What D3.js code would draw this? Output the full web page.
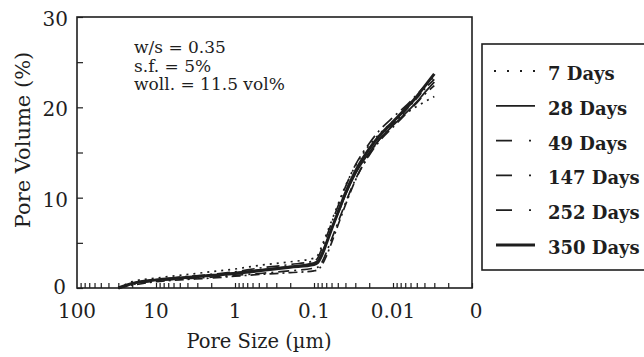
<!DOCTYPE html>
<html>
<head>
<meta charset="utf-8">
<script src="https://cdn.jsdelivr.net/npm/d3@7"></script>
<style>
	body { margin: 0; background: #fff; }
	svg { display: block; font-family: "DejaVu Serif", serif; }
</style>
</head>
<body>
<svg class="chart" width="644" height="357"></svg>
<script>
// pore size (µm), from coarse to fine
const poreSize = [30, 20, 10, 5, 2, 1, 0.5, 0.2, 0.1, 0.09, 0.08, 0.07, 0.06, 0.05, 0.04, 0.03, 0.02, 0.015, 0.01, 0.007, 0.005, 0.004, 0.003];
// cumulative pore volume (%)
const days7 = [0, 0.7, 1.1, 1.4, 1.8, 2.1, 2.5, 2.9, 3.3, 3.6, 4.6, 5.9, 7.4, 9.2, 11.3, 13.5, 15.8, 17.0, 18.4, 19.3, 20.1, 20.6, 21.2];
const days28 = [0, 0.5, 0.9, 1.1, 1.4, 1.7, 2.0, 2.4, 2.8, 3.0, 3.8, 5.0, 6.5, 8.2, 10.3, 12.6, 15.0, 16.4, 18.0, 19.3, 20.6, 21.6, 22.8];
const days49 = [0, 0.4, 0.8, 1.0, 1.2, 1.4, 1.6, 1.9, 2.2, 2.3, 2.8, 3.9, 5.4, 7.2, 9.4, 12.0, 14.7, 16.2, 17.8, 19.2, 20.5, 21.4, 22.4];
const days147 = [0, 0.3, 0.7, 0.9, 1.1, 1.3, 1.5, 1.7, 1.9, 2.0, 2.5, 3.5, 5.0, 6.9, 9.2, 11.9, 14.8, 16.4, 18.1, 19.6, 21.0, 22.0, 23.1];
const days252 = [0, 0.5, 0.9, 1.2, 1.5, 1.8, 2.2, 2.6, 3.0, 3.3, 4.3, 5.6, 7.2, 9.0, 11.2, 13.6, 16.0, 17.4, 18.9, 20.1, 21.4, 22.3, 23.4];
const days350 = [0, 0.5, 0.9, 1.1, 1.4, 1.6, 1.9, 2.3, 2.6, 2.8, 3.6, 4.9, 6.5, 8.3, 10.5, 12.9, 15.4, 16.8, 18.4, 19.8, 21.2, 22.3, 23.7];
const seriesNames = ['7 Days', '28 Days', '49 Days', '147 Days', '252 Days', '350 Days'];
const seriesValues = [days7, days28, days49, days147, days252, days350];
const xTickValues = [100, 10, 1, 0.1, 0.01, 0.001];
const xTickLabels = ['100', '10', '1', '0.1', '0.01', '0'];
const yTickLabels = [0, 10, 20, 30];
const notes = ['w/s = 0.35', 's.f. = 5%', 'woll. = 11.5 vol%'];

// line styles per series: [chart dash, legend dash, width]
const styles = [
	['2,5', '2,11', 1.7],
	[null, null, 1.7],
	['11,5,2,5', '16,17,2,20', 1.7],
	['9,4,2,4', '16,17,2,20', 1.7],
	['13,5,2,5', '16,17,2,20', 1.7],
	[null, null, 3]
];
const ink = '#1e1e1e';

const plotLeft = 77, plotRight = 472, plotTop = 17, plotBottom = 288;
const svg = d3.select('.chart');
const xScale = d3.scaleLog().domain([100, 0.001]).range([plotLeft, plotRight]);
const yScale = d3.scaleLinear().domain([0, 30]).range([plotBottom, plotTop]);

// minor ticks on the x axis (inward)
const minorTicks = [];
xTickValues.slice(0, -1).forEach(decade => {
	for (let k = 1; k <= 9; k++) minorTicks.push(decade / 10 * k);
});
svg.append('g')
	.attr('transform', `translate(0, ${plotBottom})`)
	.call(d3.axisTop(xScale).tickValues(minorTicks).tickSize(5).tickFormat(''))
	.call(g => g.select('.domain').remove())
	.selectAll('line').attr('stroke', ink).attr('stroke-width', 1.2);

// x tick labels
svg.append('g')
	.selectAll('text')
	.data(xTickValues)
	.enter()
		.append('text')
		.attr('x', d => xScale(d) + (d === 0.001 ? 4 : 0))
		.attr('y', 318)
		.attr('text-anchor', 'middle')
		.attr('font-size', 20)
		.attr('fill', ink)
		.text((d, i) => xTickLabels[i]);

// y axis ticks (inward) and labels
svg.append('g')
	.attr('transform', `translate(${plotLeft}, 0)`)
	.call(d3.axisRight(yScale).tickValues(d3.range(0, 31, 5)).tickSize(6).tickFormat(''))
	.call(g => g.select('.domain').remove())
	.selectAll('line').attr('stroke', ink).attr('stroke-width', 1.2);
svg.append('g')
	.selectAll('text')
	.data(yTickLabels)
	.enter()
		.append('text')
		.attr('x', d => d === 0 ? 66 : 68)
		.attr('y', d => yScale(d) + (d === 0 ? 6 : 9))
		.attr('text-anchor', 'end')
		.attr('font-size', 20)
		.attr('fill', ink)
		.text(d => d);

// plot frame
svg.append('rect')
	.attr('x', plotLeft)
	.attr('y', plotTop)
	.attr('width', plotRight - plotLeft)
	.attr('height', plotBottom - plotTop)
	.attr('fill', 'none')
	.attr('stroke', ink)
	.attr('stroke-width', 1.6);

// curves
const line = d3.line()
	.x(d => xScale(d[0]))
	.y(d => yScale(d[1]))
	.curve(d3.curveMonotoneX);
svg.append('g')
	.selectAll('path')
	.data(seriesValues)
	.enter()
		.append('path')
		.attr('d', values => line(values.map((v, i) => [poreSize[i], v])))
		.attr('fill', 'none')
		.attr('stroke', ink)
		.attr('stroke-width', (d, i) => styles[i][2])
		.attr('stroke-dasharray', (d, i) => styles[i][0]);

// annotation
svg.append('g')
	.selectAll('text')
	.data(notes)
	.enter()
		.append('text')
		.attr('x', 134)
		.attr('y', (d, i) => 53 + i * 18.5)
		.attr('font-size', 17)
		.attr('fill', ink)
		.text(d => d);

// axis titles
svg.append('text')
	.attr('x', 259)
	.attr('y', 348)
	.attr('text-anchor', 'middle')
	.attr('font-size', 19.5)
	.attr('fill', ink)
	.text('Pore Size (µm)');
svg.append('text')
	.attr('transform', 'translate(30, 140) rotate(-90)')
	.attr('text-anchor', 'middle')
	.attr('font-size', 21)
	.attr('fill', ink)
	.text('Pore Volume (%)');

// legend
const legend = svg.append('g');
legend.append('rect')
	.attr('x', 482)
	.attr('y', 44)
	.attr('width', 200)
	.attr('height', 226)
	.attr('fill', '#fff')
	.attr('stroke', ink)
	.attr('stroke-width', 1.6);
const item = legend.selectAll('g')
	.data(seriesNames)
	.enter()
		.append('g')
		.attr('transform', (d, i) => `translate(0, ${80 + i * 34.8})`);
item.append('line')
	.attr('x1', (d, i) => i === 0 ? 494 : 496)
	.attr('x2', 535)
	.attr('y1', -9)
	.attr('y2', -9)
	.attr('stroke', ink)
	.attr('stroke-width', (d, i) => i === 5 ? 3 : 1.8)
	.attr('stroke-dasharray', (d, i) => styles[i][1]);
item.append('text')
	.attr('x', 548)
	.attr('font-size', 18)
	.attr('font-weight', 'bold')
	.attr('fill', ink)
	.text(d => d);
</script>
</body>
</html>
